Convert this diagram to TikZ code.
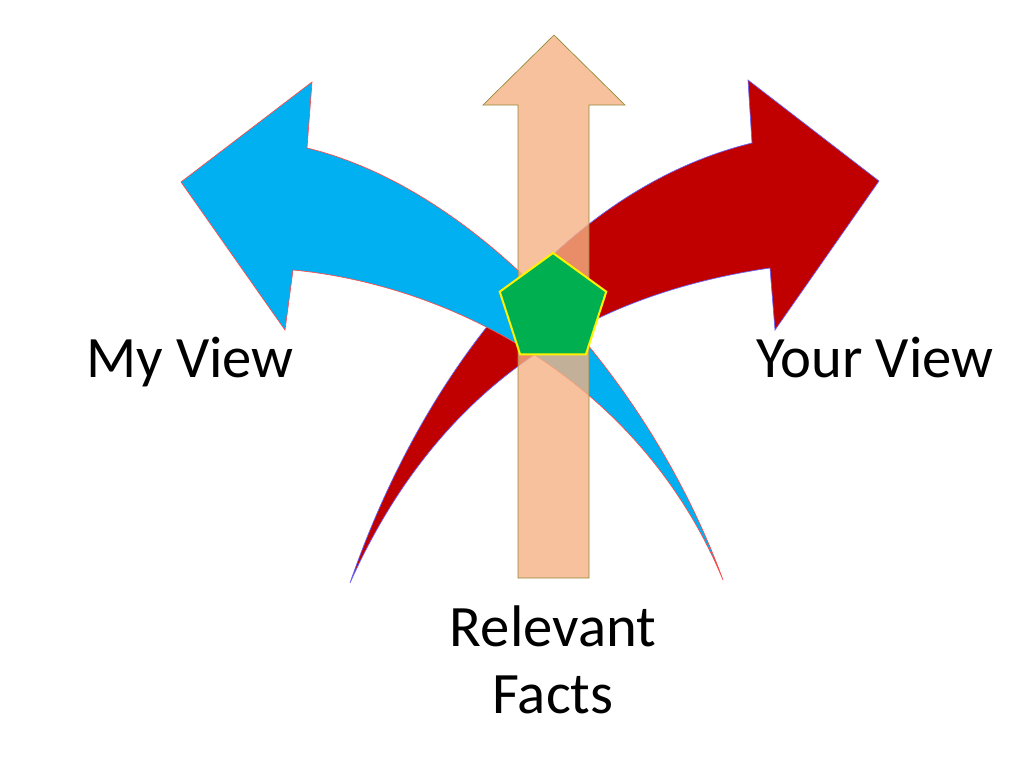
\documentclass[tikz,border=0pt]{standalone}
\usepackage{fontspec}
\setmainfont{Carlito}
\usetikzlibrary{shapes.geometric}
\definecolor{bluea}{HTML}{00B0F0}
\definecolor{reda}{HTML}{C00000}
\definecolor{peach}{HTML}{F4B183}
\definecolor{greena}{HTML}{00B050}
\tikzset{lbl/.style={font=\fontsize{44}{50}\selectfont,align=center}}
\begin{document}
\begin{tikzpicture}[x=0.75pt,y=-0.75pt]
\useasboundingbox (0,0) rectangle (1029,757);
% red arrow
\fill[reda,draw=blue!60,line width=0.5pt] (350,583) .. controls (420,380) and (560,190) .. (752,143)
 -- (748,80) -- (879,181) -- (775,330) -- (770,268)
 .. controls (620,290) and (450,360) .. cycle;
% blue arrow
\fill[bluea,draw=red!70,line width=0.5pt] (723,580) .. controls (650,380) and (480,190) .. (307,148)
 -- (312,82) -- (181,182) -- (285,330) -- (293,270)
 .. controls (450,285) and (640,380) .. cycle;
% peach arrow
\fill[peach,fill opacity=0.8,draw=olive!60!gray,line width=0.5pt]
 (518,578) -- (518,105) -- (483,105) -- (554,35) -- (625,105) -- (589,105) -- (589,578) -- cycle;
\node[regular polygon,regular polygon sides=5,minimum size=84,fill=greena,draw=yellow,line width=1.5pt,inner sep=0] (p) at (553,309) {};
\node[lbl] (my) at (190,362) {My View};
\node[lbl] (your) at (875,358) {Your View};
\node[lbl] (rf) at (553,660) {Relevant\\Facts};
\end{tikzpicture}
\end{document}
